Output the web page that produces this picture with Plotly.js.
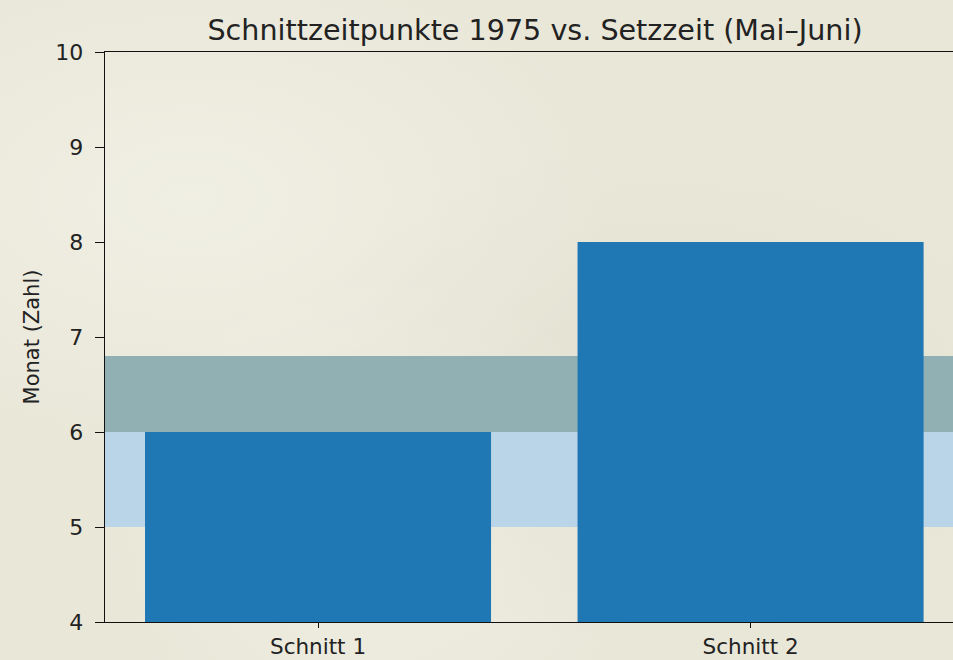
<!DOCTYPE html>
<html>
<head>
<meta charset="utf-8">
<script src="https://cdn.plot.ly/plotly-3.0.1.min.js"></script>
<style>
html,body{margin:0;padding:0;}
body{width:953px;height:660px;overflow:hidden;
background:#e9e7d8;
background-image:
 radial-gradient(ellipse at 20% 30%, rgba(255,255,250,0.35), rgba(255,255,250,0) 40%),
 radial-gradient(ellipse at 70% 60%, rgba(210,208,195,0.25), rgba(210,208,195,0) 45%),
 radial-gradient(ellipse at 40% 80%, rgba(255,255,250,0.3), rgba(255,255,250,0) 35%);
}
#chart{width:953px;height:660px;}
</style>
</head>
<body>
<div id="chart"></div>
<script>
const categories = ["Schnitt 1", "Schnitt 2"];
const monthValues = [6, 8];
const bandMai = [5, 6];
const bandJuni = [6, 6.8];
const yTicks = [4, 5, 6, 7, 8, 9, 10];

const xIdx = categories.map((c, i) => i);

const trace = {
  type: "bar",
  x: xIdx,
  y: monthValues,
  base: 0,
  width: 0.8,
  marker: {color: "#1f77b4", line: {width: 0}},
  hoverinfo: "x+y"
};

const layout = {
  width: 953,
  height: 660,
  paper_bgcolor: "rgba(0,0,0,0)",
  plot_bgcolor: "rgba(0,0,0,0)",
  margin: {l: 105, r: 0, t: 52, b: 38},
  font: {family: "DejaVu Sans", color: "#222", size: 20},
  title: {
    text: "Schnittzeitpunkte 1975 vs. Setzzeit (Mai–Juni)",
    font: {family: "DejaVu Sans", size: 28.6, color: "#222"},
    x: 535/953, xref: "container", xanchor: "center",
    y: 1 - 30/660, yref: "container", yanchor: "middle"
  },
  showlegend: false,
  xaxis: {
    range: [-0.4925, 1.468],
    tickvals: xIdx,
    ticktext: categories,
    showgrid: false,
    zeroline: false,
    showline: true,
    linecolor: "#111",
    linewidth: 1.3,
    mirror: true,
    ticks: "outside",
    ticklen: 5,
    tickcolor: "#111",
    tickfont: {size: 21.5, family: "DejaVu Sans", color: "#222"}
  },
  yaxis: {
    range: [4, 10],
    tickvals: yTicks,
    showgrid: false,
    zeroline: false,
    showline: true,
    linecolor: "#111",
    linewidth: 1.3,
    mirror: true,
    ticks: "outside",
    ticklen: 9,
    tickcolor: "#111",
    ticklabelstandoff: 7,
    tickfont: {size: 22, family: "DejaVu Sans", color: "#222"},
    title: {text: "Monat (Zahl)", font: {size: 21, family: "DejaVu Sans", color: "#222"}, standoff: 10}
  },
  shapes: [
    {type: "rect", xref: "paper", yref: "y", x0: 0, x1: 1, y0: bandMai[0], y1: bandMai[1],
     fillcolor: "#bad4e8", line: {width: 0}, layer: "below"},
    {type: "rect", xref: "paper", yref: "y", x0: 0, x1: 1, y0: bandJuni[0], y1: bandJuni[1],
     fillcolor: "#91b0b3", line: {width: 0}, layer: "below"}
  ]
};

Plotly.newPlot("chart", [trace], layout, {displayModeBar: false, staticPlot: true});
</script>
</body>
</html>
